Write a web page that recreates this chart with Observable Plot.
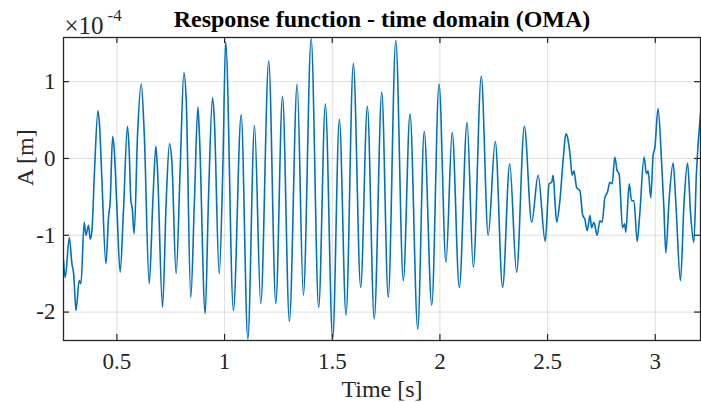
<!DOCTYPE html>
<html>
<head>
<meta charset="utf-8">
<script src="https://cdn.jsdelivr.net/npm/d3@7"></script>
<script src="https://cdn.jsdelivr.net/npm/@observablehq/plot@0.6"></script>
<style>
  html, body { margin: 0; padding: 0; background: #fff; }
  svg { display: block; }
</style>
</head>
<body>
<div id="chart"></div>
<script>
const titleText = "Response function - time domain (OMA)";
const xLabel = "Time [s]";
const yLabel = "A [m]";
const yExponent = "-4";

const xTicks = [0.5, 1, 1.5, 2, 2.5, 3];
const xTickLabels = ["0.5", "1", "1.5", "2", "2.5", "3"];
const yTicks = [-2, -1, 0, 1];
const yTickLabels = ["-2", "-1", "0", "1"];

// time [s]
const time = [
  0.252, 0.260, 0.279, 0.291, 0.299, 0.310, 0.325, 0.333, 0.348, 0.356,
  0.368, 0.376, 0.384, 0.396, 0.412, 0.419, 0.430, 0.449, 0.461, 0.469,
  0.480, 0.488, 0.500, 0.515, 0.531, 0.549, 0.557, 0.565, 0.571, 0.580,
  0.596, 0.613, 0.627, 0.650, 0.667, 0.681, 0.688, 0.712, 0.729, 0.744,
  0.755, 0.775, 0.794, 0.811, 0.822, 0.843, 0.860, 0.876, 0.883, 0.910,
  0.925, 0.944, 0.952, 0.975, 0.992, 1.005, 1.041, 1.077, 1.108, 1.139,
  1.168, 1.205, 1.238, 1.269, 1.301, 1.337, 1.366, 1.402, 1.437, 1.468,
  1.502, 1.533, 1.564, 1.598, 1.632, 1.663, 1.695, 1.730, 1.760, 1.795,
  1.830, 1.861, 1.897, 1.927, 1.962, 1.996, 2.028, 2.057, 2.090, 2.126,
  2.155, 2.192, 2.224, 2.257, 2.291, 2.324, 2.356, 2.392, 2.426, 2.456,
  2.489, 2.507, 2.519, 2.526, 2.534, 2.542, 2.557, 2.573, 2.585, 2.593,
  2.604, 2.614, 2.622, 2.635, 2.650, 2.663, 2.673, 2.684, 2.697, 2.704,
  2.715, 2.730, 2.743, 2.753, 2.766, 2.778, 2.789, 2.800, 2.812, 2.823,
  2.832, 2.848, 2.858, 2.863, 2.879, 2.890, 2.901, 2.916, 2.928, 2.948,
  2.959, 2.967, 2.979, 2.990, 2.998, 3.013, 3.029, 3.040, 3.049, 3.064,
  3.083, 3.095, 3.117, 3.134, 3.150, 3.164, 3.179, 3.191, 3.210
];
// amplitude [x 1e-4 m]
const amplitude = [
  -1.33, -1.55, -1.03, -1.37, -1.50, -1.98, -1.59, -1.63, -0.83, -1.00,
  -0.87, -1.05, -0.94, -0.16, 0.62, 0.45, -0.25, -1.37, -0.77, -0.55,
  0.29, 0.10, -0.64, -1.48, -0.64, 0.42, 0.10, -0.55, -0.64, -0.98,
  0.32, 0.97, 0.32, -1.63, -0.55, 0.16, -0.12, -1.94, -0.55, 0.19,
  -0.03, -1.50, -0.12, 1.12, 0.75, -1.81, -0.55, 0.67, 0.32, -2.02,
  -0.55, 0.79, 0.53, -1.50, -0.12, 1.52, -1.98, 0.57, -2.35, 0.43,
  -1.89, 1.27, -1.89, 0.81, -2.12, 0.97, -1.78, 1.56, -1.94, 0.71,
  -2.35, 0.51, -2.04, 1.24, -1.68, 0.68, -2.09, 0.86, -1.81, 1.54,
  -1.59, 0.58, -2.22, 0.35, -1.91, 0.97, -1.35, 0.34, -1.68, 0.47,
  -1.42, 1.07, -1.00, 0.22, -1.68, -0.07, -1.48, 0.42, -0.83, -0.22,
  -1.08, -0.33, -0.31, -0.22, -0.55, -0.83, -0.55, 0.01, 0.32, 0.27,
  0.06, -0.22, -0.16, -0.38, -0.42, -0.74, -0.79, -0.94, -0.74, -0.90,
  -0.83, -1.00, -0.81, -0.83, -0.51, -0.44, -0.31, -0.33, 0.02, -0.16,
  -0.20, -0.90, -0.85, -0.96, -0.33, -0.55, -0.55, -1.08, -0.72, 0.02,
  -0.20, -0.16, -0.51, 0.04, 0.14, 0.65, -0.03, -0.64, -1.23, -0.55,
  -0.06, -0.55, -1.59, -0.55, -0.06, -0.72, -1.09, -0.20, 0.58
];

const xDomain = [0.252, 3.21];
const yDomain = [-2.37, 1.575];

const W = 701, H = 402;
const mL = 63, mR = 1, mT = 37, mB = 62;
const plotW = W - mL - mR, plotH = H - mT - mB;
const tickLen = 6;

const data = time.map((t, i) => ({t, a: amplitude[i]}));
const font = "'Liberation Serif', 'Times New Roman', serif";
const ink = "#262626";

const chart = Plot.plot({
  width: W,
  height: H,
  marginLeft: mL,
  marginRight: mR,
  marginTop: mT,
  marginBottom: mB,
  style: {background: "#fff", fontFamily: font, color: ink},
  x: {domain: xDomain, axis: null},
  y: {domain: yDomain, axis: null},
  marks: [
    Plot.gridX(xTicks, {stroke: "#000", strokeOpacity: 0.13, strokeWidth: 1}),
    Plot.gridY(yTicks, {stroke: "#000", strokeOpacity: 0.13, strokeWidth: 1}),
    Plot.line(data, {x: "t", y: "a", stroke: "#0072BD", strokeWidth: 1.6, curve: "monotone-x", clip: true}),
    Plot.tickX(xTicks, {x: d => d, insetTop: plotH - tickLen, stroke: ink, strokeWidth: 1.2}),
    Plot.tickX(xTicks, {x: d => d, insetBottom: plotH - tickLen, stroke: ink, strokeWidth: 1.2}),
    Plot.tickY(yTicks, {y: d => d, insetRight: plotW - tickLen, stroke: ink, strokeWidth: 1.2}),
    Plot.tickY(yTicks, {y: d => d, insetLeft: plotW - tickLen, stroke: ink, strokeWidth: 1.2}),
    Plot.frame({stroke: ink, strokeWidth: 1.3}),
    Plot.text(xTicks, {x: d => d, frameAnchor: "bottom", dy: 28, lineAnchor: "bottom",
      text: (d, i) => xTickLabels[i], fontSize: 23, fill: ink}),
    Plot.text(yTicks, {y: d => d, frameAnchor: "left", dx: -8, textAnchor: "end", lineAnchor: "middle",
      text: (d, i) => yTickLabels[i], fontSize: 23, fill: ink}),
    Plot.text([xLabel], {frameAnchor: "bottom", dy: 56, lineAnchor: "bottom", fontSize: 24, fill: ink}),
    Plot.text([yLabel], {frameAnchor: "left", dx: -31, dy: -3, rotate: -90, lineAnchor: "bottom", fontSize: 24, fill: ink}),
    Plot.text([titleText], {frameAnchor: "top", dy: -11, lineAnchor: "bottom", fontSize: 24, fontWeight: "bold", fill: "#000"}),
    Plot.text(["\u00d710"], {frameAnchor: "top-left", dx: 1, dy: -4, textAnchor: "start", lineAnchor: "bottom", fontSize: 25, fill: ink}),
    Plot.text([yExponent], {frameAnchor: "top-left", dx: 44, dy: -17, textAnchor: "start", lineAnchor: "bottom", fontSize: 17, fill: ink})
  ]
});
document.getElementById("chart").appendChild(chart);
</script>
</body>
</html>
